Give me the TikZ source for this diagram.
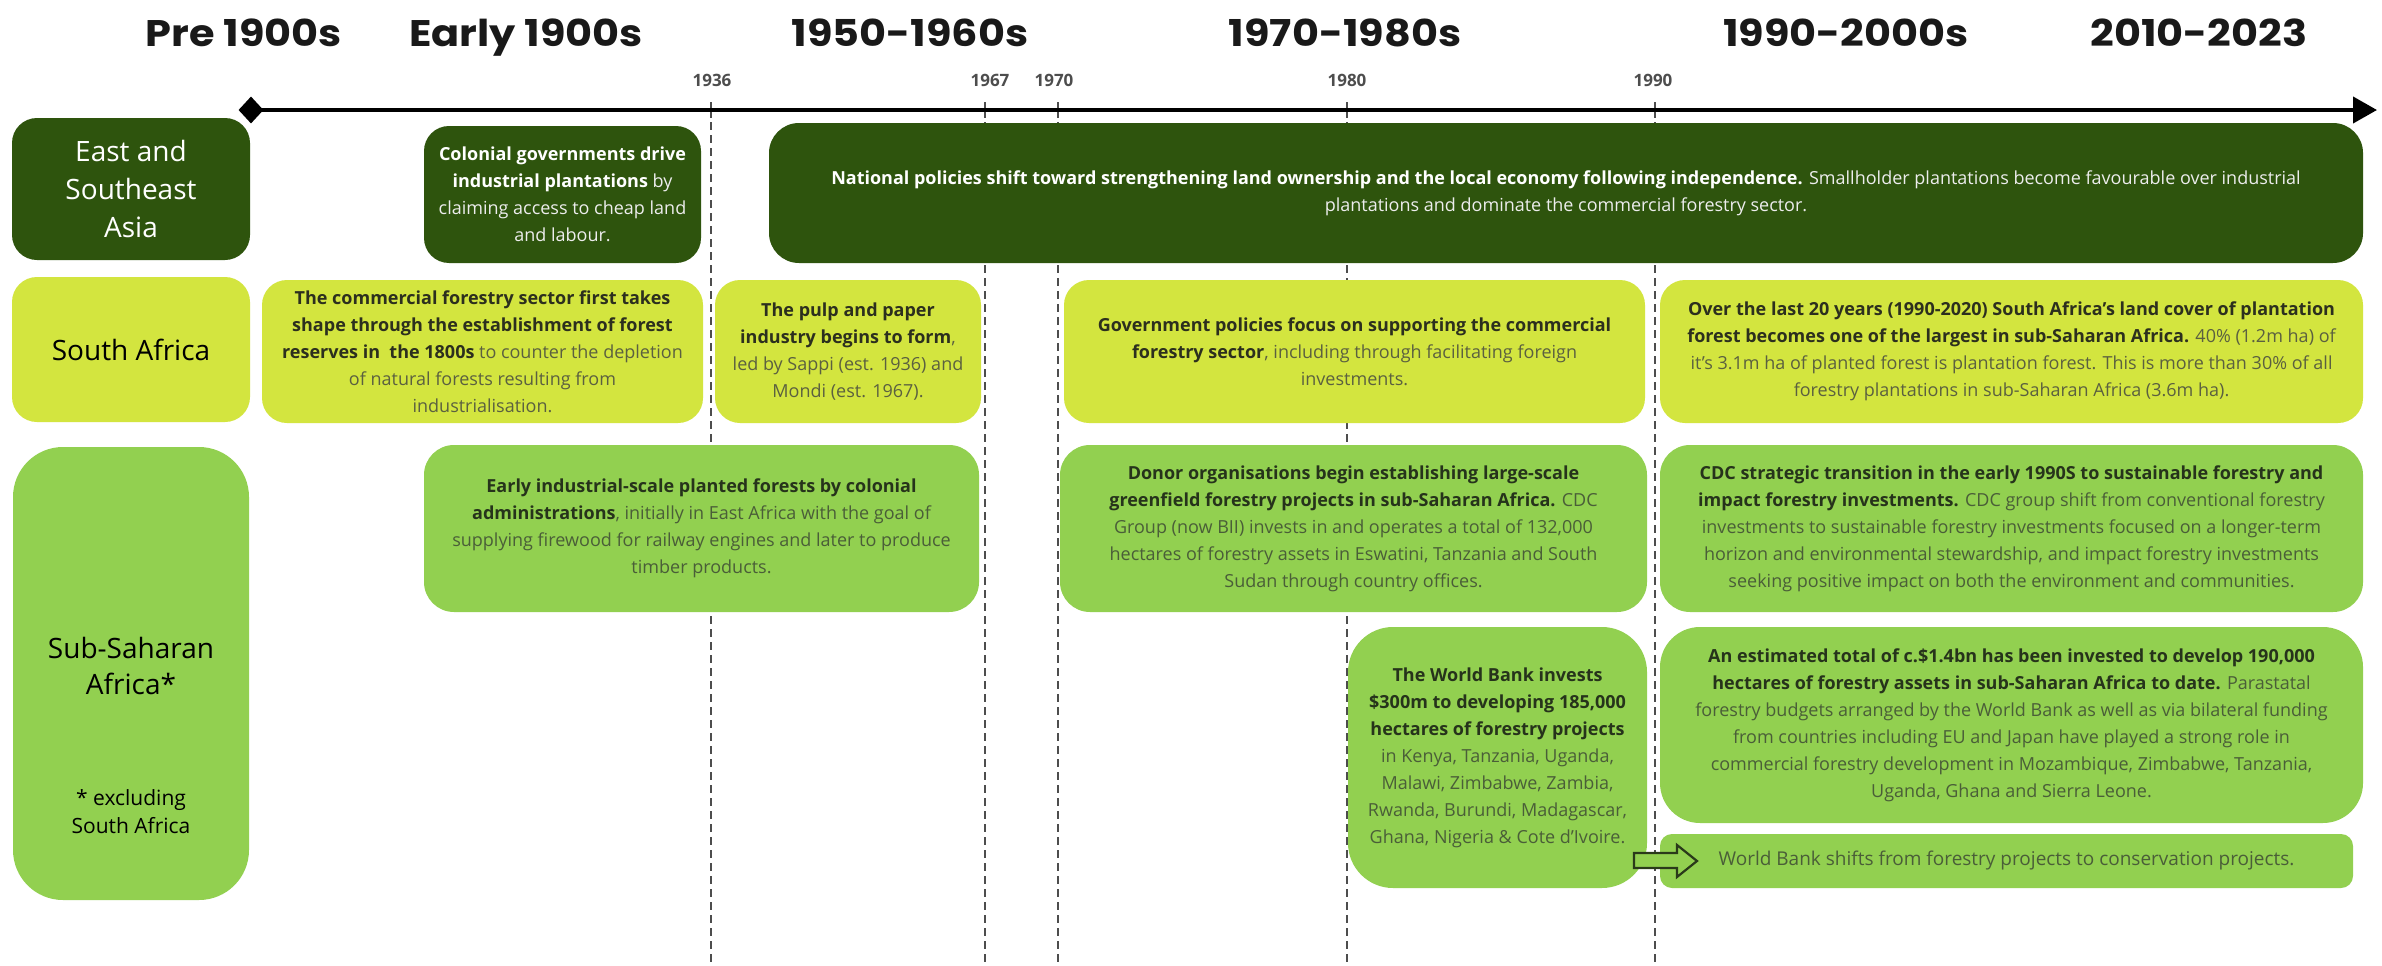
\documentclass[tikz,border=0pt]{standalone}
\usepackage{fontspec}
\usepackage{graphicx}
\setmainfont{Open Sans}
\newfontfamily\hdfont{Poppins}
\usetikzlibrary{arrows.meta,shapes.geometric}
\definecolor{dgreen}{HTML}{2E540D}
\definecolor{ygreen}{HTML}{D3E53F}
\definecolor{mgreen}{HTML}{92D050}
\definecolor{dreg}{HTML}{EDEDED}
\definecolor{yreg}{HTML}{5B6040}
\definecolor{ybold}{HTML}{2C2F1E}
\definecolor{mreg}{HTML}{4A5E38}
\definecolor{mbold}{HTML}{26331B}
\definecolor{dashcol}{HTML}{4D4D4D}
\definecolor{arrline}{HTML}{2A3A1A}
\newcommand{\hl}[1]{\textbf{\color{hb}#1}}
\newcommand{\hdtxt}[1]{\scalebox{1.12}[1]{#1}}
\begin{document}
\begin{tikzpicture}[x=1pt,y=-1pt,
  box/.style={rectangle, rounded corners=25pt, inner sep=0pt, align=center,
    font=\fontsize{18}{27}\selectfont},
  darkbox/.style={box, fill=dgreen, text=dreg, execute at begin node={\colorlet{hb}{white}}},
  ybox/.style={box, fill=ygreen, text=yreg, execute at begin node={\colorlet{hb}{ybold}}},
  gbox/.style={box, fill=mgreen, text=mreg, execute at begin node={\colorlet{hb}{mbold}}},
  labbox/.style={rectangle, rounded corners=25pt, inner sep=0pt, align=center,
    font=\fontsize{28}{38}\selectfont},
  hdr/.style={anchor=base, font=\hdfont\bfseries\fontsize{37}{40}\selectfont, text=black!90},
  yearlab/.style={font=\bfseries\fontsize{17}{20}\selectfont, text=dashcol},
  dashline/.style={draw=dashcol, line width=1.5pt, dash pattern=on 8pt off 5pt},
  tickmark/.style={draw=dashcol, line width=1.2pt},
  axisline/.style={line width=4pt, -{Triangle[length=24pt,width=26pt]}},
  blockarrow/.style={draw=arrline, line width=2.2pt, fill=mgreen, line join=miter}
]
\useasboundingbox (0,0) rectangle (2382,966);
\fill[white] (0,0) rectangle (2382,966);

% headers
\node[hdr] (h1) at (244,47) {\hdtxt{Pre 1900s}};
\node[hdr] (h2) at (526,47) {\hdtxt{Early 1900s}};
\node[hdr] (h3) at (910,47) {\hdtxt{1950-1960s}};
\node[hdr] (h4) at (1345,47) {\hdtxt{1970-1980s}};
\node[hdr] (h5) at (1846,47) {\hdtxt{1990-2000s}};
\node[hdr] (h6) at (2199,47) {\hdtxt{2010-2023}};

% year positions on axis
\coordinate (t1) at (711,110);
\coordinate (t2) at (985,110);
\coordinate (t3) at (1058,110);
\coordinate (t4) at (1347,110);
\coordinate (t5) at (1655,110);

\node[yearlab] (y1) at (712,80) {1936};
\node[yearlab] (y2) at (990,80) {1967};
\node[yearlab] (y3) at (1054,80) {1970};
\node[yearlab] (y4) at (1347,80) {1980};
\node[yearlab] (y5) at (1653,80) {1990};

% dashed guide lines
\foreach \t in {t1,t2,t3,t4,t5}{
  \draw[dashline] (\t) ++(0,12) -- ++(0,840);
  \draw[tickmark] (\t) ++(0,-8) -- ++(0,16);
}

% axis
\node[diamond, fill=black, minimum width=25pt, minimum height=27pt, inner sep=0pt] (dia) at (251,110) {};
\coordinate (axend) at (2377,110);
\draw[axisline] (dia.center) -- (axend);

% row labels
\node[labbox, fill=dgreen, text=white, minimum width=238pt, minimum height=142pt] (lab1) at (131,189) {East and\\Southeast\\Asia};
\node[labbox, fill=ygreen, text=black, minimum width=238pt, minimum height=145pt] (lab2) at (131,349.5) {South Africa};
\node[labbox, fill=mgreen, rounded corners=50pt, minimum width=236pt, minimum height=453pt] (lab3) at (131,673.5) {};
\node[font=\fontsize{28}{36}\selectfont, align=center, text=black] (lab3a) at (131,666) {Sub-Saharan\\Africa*};
\node[font=\fontsize{21}{28}\selectfont, align=center, text=black] (lab3b) at (131,812) {* excluding\\South Africa};

% row 1: East and Southeast Asia
\node[darkbox, minimum width=277pt, minimum height=137pt] (a1) at (562.5,194.5)
 {\hl{Colonial governments drive}\\\hl{industrial plantations} by\\claiming access to cheap land\\and labour.};
\node[darkbox, rounded corners=30pt, minimum width=1594pt, minimum height=140pt] (a2) at (1566,193)
 {\hl{National policies shift toward strengthening land ownership and the local economy following independence.} Smallholder plantations become favourable over industrial\\plantations and dominate the commercial forestry sector.};

% row 2: South Africa
\node[ybox, minimum width=441pt, minimum height=143pt] (b1) at (482.5,351.5)
 {\hl{The commercial forestry sector first takes}\\\hl{shape through the establishment of forest}\\\hl{reserves in\ \ the 1800s} to counter the depletion\\of natural forests resulting from\\industrialisation.};
\node[ybox, minimum width=266pt, minimum height=143pt] (b2) at (848,351.5)
 {\hl{The pulp and paper}\\\hl{industry begins to form},\\led by Sappi (est. 1936) and\\Mondi (est. 1967).};
\node[ybox, minimum width=581pt, minimum height=143pt] (b3) at (1354.5,351.5)
 {\hl{Government policies focus on supporting the commercial}\\\hl{forestry sector}, including through facilitating foreign\\investments.};
\node[ybox, minimum width=703pt, minimum height=143pt] (b4) at (2011.5,351.5)
 {\hl{Over the last 20 years (1990-2020) South Africa's land cover of plantation}\\\hl{forest becomes one of the largest in sub-Saharan Africa.} 40\% (1.2m ha) of\\it's 3.1m ha of planted forest is plantation forest. This is more than 30\% of all\\forestry plantations in sub-Saharan Africa (3.6m ha).};

% row 3: Sub-Saharan Africa
\node[gbox, rounded corners=30pt, minimum width=555pt, minimum height=167pt] (c1) at (701.5,528.5)
 {\hl{Early industrial-scale planted forests by colonial}\\\hl{administrations}, initially in East Africa with the goal of\\supplying firewood for railway engines and later to produce\\timber products.};
\node[gbox, rounded corners=30pt, minimum width=587pt, minimum height=167pt] (c2) at (1353.5,528.5)
 {\hl{Donor organisations begin establishing large-scale}\\\hl{greenfield forestry projects in sub-Saharan Africa.} CDC\\Group (now BII) invests in and operates a total of 132,000\\hectares of forestry assets in Eswatini, Tanzania and South\\Sudan through country offices.};
\node[gbox, rounded corners=30pt, minimum width=703pt, minimum height=167pt] (c3) at (2011.5,528.5)
 {\hl{CDC strategic transition in the early 1990S to sustainable forestry and}\\\hl{impact forestry investments.} CDC group shift from conventional forestry\\investments to sustainable forestry investments focused on a longer-term\\horizon and environmental stewardship, and impact forestry investments\\seeking positive impact on both the environment and communities.};
\node[gbox, rounded corners=45pt, minimum width=299pt, minimum height=261pt] (c4) at (1497.5,757.5)
 {\hl{The World Bank invests}\\\hl{\$300m to developing 185,000}\\\hl{hectares of forestry projects}\\in Kenya, Tanzania, Uganda,\\Malawi, Zimbabwe, Zambia,\\Rwanda, Burundi, Madagascar,\\Ghana, Nigeria \& Cote d'Ivoire.};
\node[gbox, rounded corners=40pt, minimum width=703pt, minimum height=196pt] (c5) at (2011.5,725)
 {\hl{An estimated total of c.\$1.4bn has been invested to develop 190,000}\\\hl{hectares of forestry assets in sub-Saharan Africa to date.} Parastatal\\forestry budgets arranged by the World Bank as well as via bilateral funding\\from countries including EU and Japan have played a strong role in\\commercial forestry development in Mozambique, Zimbabwe, Tanzania,\\Uganda, Ghana and Sierra Leone.};
\node[gbox, rounded corners=12pt, minimum width=693pt, minimum height=54pt, font=\fontsize{19}{27}\selectfont] (c6) at (2006.5,861)
 {World Bank shifts from forestry projects to conservation projects.};

% block arrow from c4 to c6
\draw[blockarrow] (1634,853) -- (1677,853) -- (1677,845) -- (1697,861) -- (1677,877) -- (1677,868) -- (1634,868) -- cycle;
\end{tikzpicture}
\end{document}
